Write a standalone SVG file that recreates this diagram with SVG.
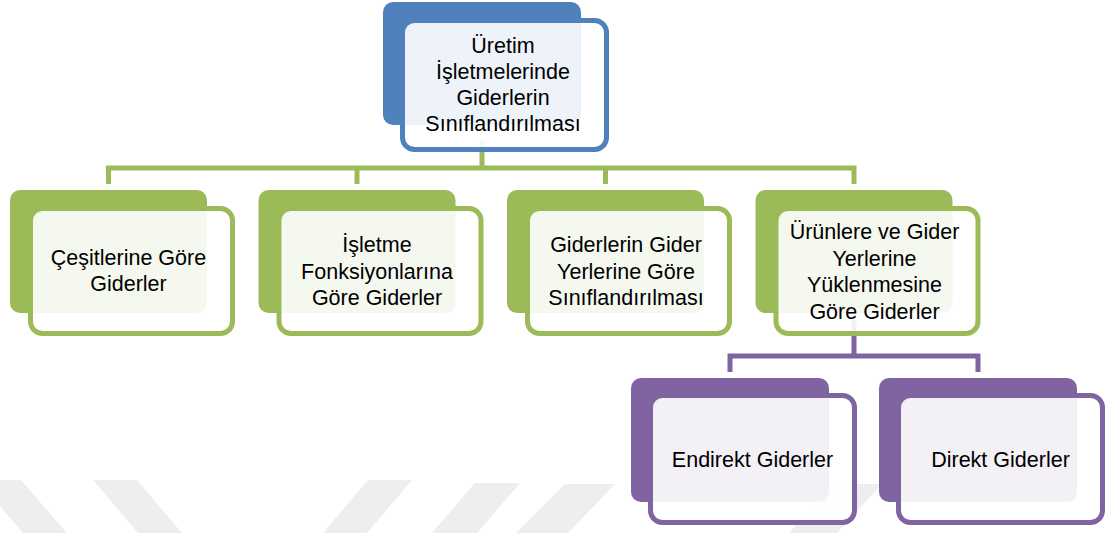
<svg xmlns="http://www.w3.org/2000/svg" width="1107" height="533" viewBox="0 0 1107 533">
<style>
.wm{fill:#eeeeee;}
.conn{fill:none;stroke-width:5;stroke-linejoin:miter;}
.cg{stroke:#9bbb59;}
.cp{stroke:#8064a2;}
.front{fill:#ffffff;fill-opacity:0.9;stroke-width:5;}
.t{font-family:"Liberation Sans",Arial,sans-serif;font-size:21.5px;fill:#000000;text-anchor:middle;}
</style>
<rect x="0" y="0" width="1107" height="533" fill="#ffffff"/>
<g id="watermark">
<polygon class="wm" points="-23,480 21,480 67,533 23,533"/>
<polygon class="wm" points="93,480 137,480 182,533 138,533"/>
<polygon class="wm" points="368,480 412,480 367,533 323,533"/>
<polygon class="wm" points="475,483 520,483 477,533 432,533"/>
<polygon class="wm" points="565,484 615,484 568,533 516,533"/>
<polygon class="wm" points="834,484 882,484 837,533 789,533"/>
</g>
<g id="connectors">
<path class="conn cg" d="M482,140 V168"/>
<path class="conn cg" d="M108.5,184 V168 H854 V184"/>
<path class="conn cg" d="M357,168 V184"/>
<path class="conn cg" d="M605.5,168 V184"/>
<path class="conn cp" d="M854,320 V356"/>
<path class="conn cp" d="M730,372 V356 H978 V372"/>
</g>
<g id="root">
<rect x="383" y="2" width="198" height="123" rx="10" fill="#4f81bd"/>
<rect class="front" x="402.5" y="20.5" width="204" height="129" rx="12" stroke="#4f81bd"/>
<text class="t" x="503" y="53">Üretim</text>
<text class="t" x="503" y="79">İşletmelerinde</text>
<text class="t" x="503" y="105">Giderlerin</text>
<text class="t" x="503" y="131">Sınıflandırılması</text>
</g>
<g id="n1">
<rect x="10" y="190" width="197" height="123" rx="10" fill="#9bbb59"/>
<rect class="front" x="30.5" y="208.5" width="202" height="125" rx="12" stroke="#9bbb59"/>
<text class="t" x="128.5" y="265">Çeşitlerine Göre</text>
<text class="t" x="128.5" y="291">Giderler</text>
</g>
<g id="n2">
<rect x="258.5" y="190" width="197" height="123" rx="10" fill="#9bbb59"/>
<rect class="front" x="279" y="208.5" width="202" height="125" rx="12" stroke="#9bbb59"/>
<text class="t" x="377" y="252">İşletme</text>
<text class="t" x="377" y="278.5">Fonksiyonlarına</text>
<text class="t" x="377" y="305">Göre Giderler</text>
</g>
<g id="n3">
<rect x="507" y="190" width="197" height="123" rx="10" fill="#9bbb59"/>
<rect class="front" x="527.5" y="208.5" width="202" height="125" rx="12" stroke="#9bbb59"/>
<text class="t" x="626" y="252">Giderlerin Gider</text>
<text class="t" x="626" y="278.5">Yerlerine Göre</text>
<text class="t" x="626" y="305">Sınıflandırılması</text>
</g>
<g id="n4">
<rect x="755.5" y="190" width="197" height="123" rx="10" fill="#9bbb59"/>
<rect class="front" x="776" y="208.5" width="202" height="125" rx="12" stroke="#9bbb59"/>
<text class="t" x="874.5" y="239">Ürünlere ve Gider</text>
<text class="t" x="874.5" y="265.5">Yerlerine</text>
<text class="t" x="874.5" y="292">Yüklenmesine</text>
<text class="t" x="874.5" y="318.5">Göre Giderler</text>
</g>
<g id="p1">
<rect x="631" y="378" width="198" height="124" rx="10" fill="#8064a2"/>
<rect class="front" x="650.5" y="395.5" width="204" height="127" rx="12" stroke="#8064a2"/>
<text class="t" x="752.5" y="467">Endirekt Giderler</text>
</g>
<g id="p2">
<rect x="879" y="378" width="198" height="124" rx="10" fill="#8064a2"/>
<rect class="front" x="898.5" y="395.5" width="204" height="127" rx="12" stroke="#8064a2"/>
<text class="t" x="1000.5" y="467">Direkt Giderler</text>
</g>
</svg>
